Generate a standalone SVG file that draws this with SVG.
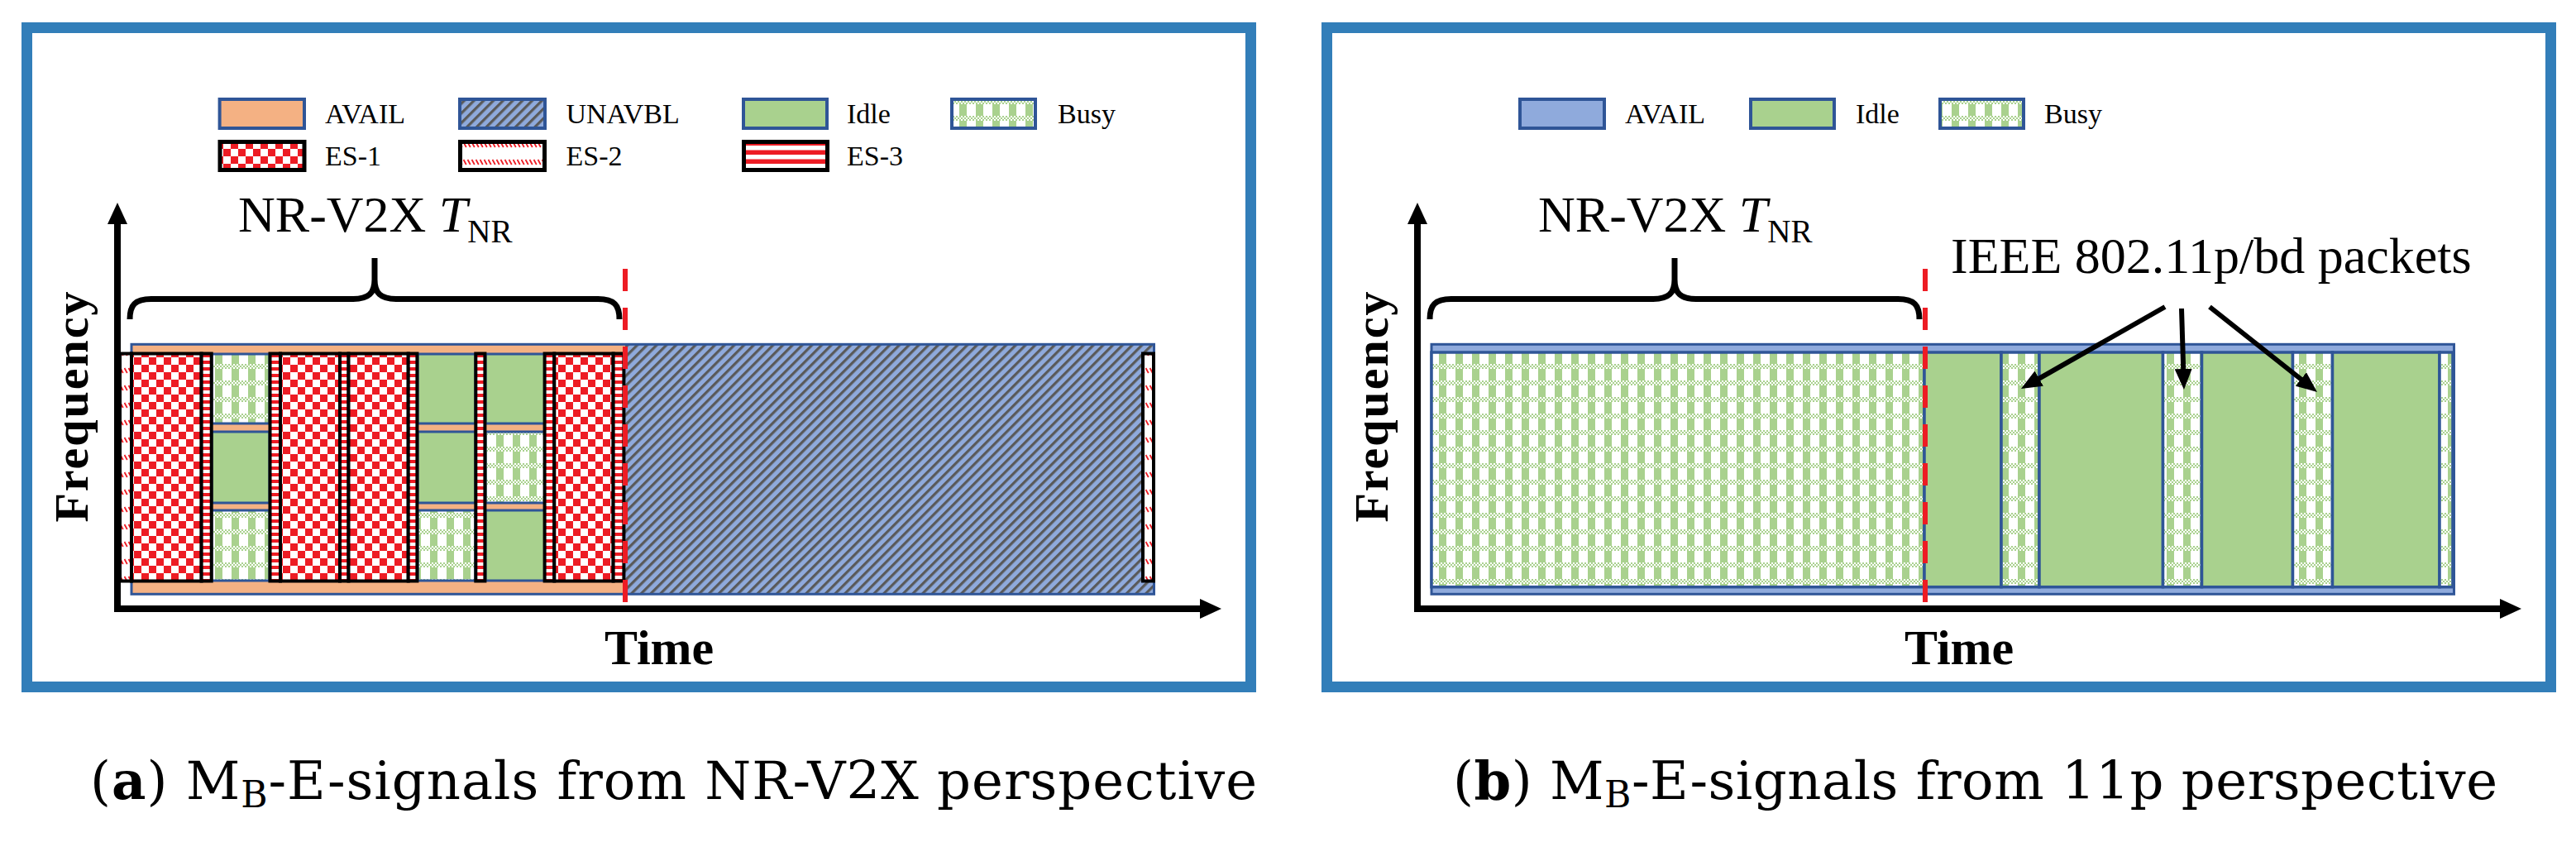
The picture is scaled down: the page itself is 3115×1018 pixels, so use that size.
<svg xmlns="http://www.w3.org/2000/svg" width="3115" height="1018" viewBox="0 0 3115 1018">
<defs>
<style>
.frame{fill:none;stroke:#327EB9;stroke-width:13}
.lg{font-family:"Liberation Serif","Times New Roman",serif;font-size:34px;fill:#000}
.bb{stroke:#2F5597;stroke-width:4}
.kb{stroke:#000;stroke-width:5}
.cell{stroke:#2F5597;stroke-width:3}
.cellb{stroke:#2F5597;stroke-width:3.5}
.es{stroke:#000;stroke-width:4}
.axis{stroke:#000;stroke-width:8;fill:none}
.call{stroke:#000;stroke-width:6;fill:none}
.brace{stroke:#000;stroke-width:7;fill:none}
.dash{stroke:#ED1C24;stroke-width:6;stroke-dasharray:27 20;fill:none}
.big{font-family:"Liberation Serif","Times New Roman",serif;font-size:62px;fill:#000}
.axl{font-family:"Liberation Serif","Times New Roman",serif;font-weight:bold;font-size:60px;fill:#000}
.freq{font-family:"Liberation Serif","Times New Roman",serif;font-weight:bold;font-size:58px;letter-spacing:2px;fill:#000}
.cap{font-family:"DejaVu Serif","Liberation Serif",serif;font-size:64px;fill:#000}
.orange{fill:#F4B183}
.lblue{fill:#8FAADC}
.idle{fill:#A9D18E}
.busy{fill:url(#pBusy)}
.es1{fill:url(#pES1)}
.es2{fill:url(#pES2)}
.es3{fill:url(#pES3)}
.es3s{fill:url(#pES3s)}
.unav{fill:url(#pUnav)}
</style>
<pattern id="pES1" width="18" height="18" patternUnits="userSpaceOnUse"><rect width="18" height="18" fill="#fff"/><rect width="9" height="9" fill="#ED1C24"/><rect x="9" y="9" width="9" height="9" fill="#ED1C24"/></pattern>
<pattern id="pFine" width="4" height="4" patternUnits="userSpaceOnUse"><rect width="4" height="4" fill="#fff"/><rect width="2" height="2" fill="#A9D18E"/><rect x="2" y="2" width="2" height="2" fill="#A9D18E"/></pattern>
<pattern id="pBusy" width="20" height="20" patternUnits="userSpaceOnUse"><rect width="20" height="20" fill="#fff"/><rect width="20" height="6" fill="url(#pFine)"/><rect x="0" y="6" width="9" height="14" fill="#A9D18E"/></pattern>
<pattern id="pES2" width="5" height="21" patternUnits="userSpaceOnUse"><rect width="5" height="21" fill="#fff"/><path d="M0.5,4 L3.8,10" stroke="#ED1C24" stroke-width="1.8"/></pattern>
<pattern id="pES3" width="11" height="11" patternUnits="userSpaceOnUse"><rect width="11" height="11" fill="#fff"/><rect y="5.5" width="11" height="5.5" fill="#ED1C24"/></pattern>
<pattern id="pES3s" width="8" height="8" patternUnits="userSpaceOnUse"><rect width="8" height="8" fill="#fff"/><rect y="4" width="8" height="4" fill="#ED1C24"/></pattern>
<pattern id="pUnav" width="8.3" height="8.3" patternUnits="userSpaceOnUse" patternTransform="rotate(45)"><rect width="8.3" height="8.3" fill="#8FAADC"/><rect width="3.2" height="8.3" fill="#595959"/></pattern>
<marker id="axh" markerUnits="userSpaceOnUse" markerWidth="26" markerHeight="24" refX="13" refY="12" orient="auto" viewBox="0 0 26 24"><path d="M0,0 L26,12 L0,24 z" fill="#000"/></marker>
<marker id="cah" markerUnits="userSpaceOnUse" markerWidth="25" markerHeight="21" refX="13" refY="10.5" orient="auto" viewBox="0 0 25 21"><path d="M0,0 L25,10.5 L0,21 z" fill="#000"/></marker>
</defs>
<rect width="3115" height="1018" fill="#fff"/>

<!-- ============ PANEL A ============ -->
<g id="panel-a">
<rect id="frame-a" class="frame" x="32.5" y="33.5" width="1480" height="797"/>

<g id="legend-a">
<g id="lg-a-avail"><rect class="bb orange" x="265.6" y="120" width="102.4" height="35"/><text class="lg" x="393" y="148.5">AVAIL</text></g>
<g id="lg-a-unavbl"><rect class="bb unav" x="556" y="120" width="103" height="35"/><text class="lg" x="684.5" y="148.5">UNAVBL</text></g>
<g id="lg-a-idle"><rect class="bb idle" x="899" y="120" width="101" height="35"/><text class="lg" x="1024" y="148.5">Idle</text></g>
<g id="lg-a-busy"><rect class="bb busy" x="1151" y="120" width="101" height="35"/><text class="lg" x="1279" y="148.5">Busy</text></g>
<g id="lg-a-es1"><rect class="kb es1" x="266" y="171.5" width="102" height="34"/><text class="lg" x="393" y="199.5">ES-1</text></g>
<g id="lg-a-es2"><rect class="kb es2" x="556.5" y="171.5" width="102" height="34"/><text class="lg" x="684.5" y="199.5">ES-2</text></g>
<g id="lg-a-es3"><rect class="kb es3" x="899.5" y="171.5" width="101" height="34"/><text class="lg" x="1024" y="199.5">ES-3</text></g>
</g>

<g id="title-a"><text class="big" x="288" y="280">NR-V2X <tspan font-style="italic">T</tspan><tspan font-size="39" dy="13">NR</tspan></text></g>
<g id="brace-a"><path class="brace" d="M157,386 C157,369 163,361.5 183,361.5 L427,361.5 C446,361.5 453,354 453,338 L453,312 M453,338 C453,354 460,361.5 479,361.5 L723,361.5 C743,361.5 749,369 749,386"/></g>

<g id="chart-a">
<rect id="a-avail-bg" class="orange" x="159" y="416.3" width="597" height="302"/>
<rect id="a-unavbl-bg" class="unav" x="756" y="416.3" width="639.5" height="302"/>
<rect id="a-outline" x="159" y="416.3" width="1236.5" height="302" fill="none" stroke="#2F5597" stroke-width="3"/>
<g id="a-col1">
<rect class="cell busy" x="256" y="428" width="70" height="84"/>
<rect class="cell idle" x="256" y="522" width="70" height="86"/>
<rect class="cell busy" x="256" y="617" width="70" height="85"/>
</g>
<g id="a-col2">
<rect class="cell idle" x="505" y="428" width="70" height="84"/>
<rect class="cell idle" x="505" y="522" width="70" height="86"/>
<rect class="cell busy" x="505" y="617" width="70" height="85"/>
</g>
<g id="a-col3">
<rect class="cell idle" x="587" y="428" width="71.5" height="84"/>
<rect class="cell busy" x="587" y="522" width="71.5" height="86"/>
<rect class="cell idle" x="587" y="617" width="71.5" height="85"/>
</g>
<g id="a-es-blocks">
<rect class="es es2" x="145" y="427.5" width="14" height="275"/>
<rect class="es es1" x="159" y="427.5" width="84.6" height="275"/>
<rect class="es es3s" x="243.6" y="427.5" width="12.1" height="275"/>
<rect class="es es3s" x="326.5" y="427.5" width="12.5" height="275"/>
<rect class="es es1" x="339" y="427.5" width="72" height="275"/>
<rect class="es es3s" x="411" y="427.5" width="10.5" height="275"/>
<rect class="es es1" x="421.5" y="427.5" width="72.2" height="275"/>
<rect class="es es3s" x="493.7" y="427.5" width="10.7" height="275"/>
<rect class="es es3s" x="575.3" y="427.5" width="11.1" height="275"/>
<rect class="es es3s" x="658.6" y="427.5" width="11.7" height="275"/>
<rect class="es es1" x="670.3" y="427.5" width="71.3" height="275"/>
<rect class="es es3s" x="741.6" y="427.5" width="12.8" height="275"/>
<rect class="es es2" x="1382" y="427.5" width="13" height="275"/>
</g>
<line id="a-tnr-mark" class="dash" x1="756" y1="325" x2="756" y2="732"/>
</g>

<g id="axes-a">
<line class="axis" x1="142" y1="740" x2="142" y2="258" marker-end="url(#axh)"/>
<line class="axis" x1="138" y1="736" x2="1464" y2="736" marker-end="url(#axh)"/>
<text class="freq" transform="translate(106,491) rotate(-90)" text-anchor="middle">Frequency</text>
<text class="axl" x="731" y="803">Time</text>
</g>
</g>

<!-- ============ PANEL B ============ -->
<g id="panel-b">
<rect id="frame-b" class="frame" x="1604.5" y="33.5" width="1480" height="797"/>

<g id="legend-b">
<g id="lg-b-avail"><rect class="bb lblue" x="1838" y="120" width="102" height="35"/><text class="lg" x="1965" y="148.5">AVAIL</text></g>
<g id="lg-b-idle"><rect class="bb idle" x="2117" y="120" width="101" height="35"/><text class="lg" x="2244" y="148.5">Idle</text></g>
<g id="lg-b-busy"><rect class="bb busy" x="2346" y="120" width="101" height="35"/><text class="lg" x="2472" y="148.5">Busy</text></g>
</g>

<g id="title-b"><text class="big" x="1860" y="280">NR-V2X <tspan font-style="italic">T</tspan><tspan font-size="39" dy="13">NR</tspan></text></g>
<g id="brace-b"><path class="brace" d="M1729,386 C1729,369 1735,361.5 1755,361.5 L1999,361.5 C2018,361.5 2025,354 2025,338 L2025,312 M2025,338 C2025,354 2032,361.5 2051,361.5 L2295,361.5 C2315,361.5 2321,369 2321,386"/></g>

<g id="label-b"><text class="big" x="2359" y="330" font-size="61">IEEE 802.11p/bd packets</text></g>

<g id="chart-b">
<rect id="b-avail-bg" class="lblue" x="1731" y="416.3" width="1236.5" height="302" stroke="#2F5597" stroke-width="3"/>
<rect class="cellb busy" x="1731" y="426" width="596" height="283.7"/>
<rect class="cellb idle" x="2327" y="426" width="93" height="283.7"/>
<rect class="cellb busy" x="2420" y="426" width="46" height="283.7"/>
<rect class="cellb idle" x="2466" y="426" width="149.5" height="283.7"/>
<rect class="cellb busy" x="2615.5" y="426" width="47" height="283.7"/>
<rect class="cellb idle" x="2662.5" y="426" width="110" height="283.7"/>
<rect class="cellb busy" x="2772.5" y="426" width="48" height="283.7"/>
<rect class="cellb idle" x="2820.5" y="426" width="129.5" height="283.7"/>
<rect class="cellb busy" x="2950" y="426" width="16" height="283.7"/>
<line id="b-tnr-mark" class="dash" x1="2328" y1="325" x2="2328" y2="732"/>
</g>

<g id="axes-b">
<line class="axis" x1="1714" y1="740" x2="1714" y2="258" marker-end="url(#axh)"/>
<line class="axis" x1="1710" y1="736" x2="3036" y2="736" marker-end="url(#axh)"/>
<text class="freq" transform="translate(1678,491) rotate(-90)" text-anchor="middle">Frequency</text>
<text class="axl" x="2303" y="803">Time</text>
</g>
</g>

<g id="connectors">
<line class="call" x1="2618" y1="371" x2="2454.4" y2="464.1" marker-end="url(#cah)"/>
<line class="call" x1="2638" y1="373" x2="2640.6" y2="459" marker-end="url(#cah)"/>
<line class="call" x1="2672" y1="371" x2="2792.6" y2="466.5" marker-end="url(#cah)"/>
</g>

<g id="captions">
<text class="cap" x="109" y="966" textLength="1411" lengthAdjust="spacing">(<tspan font-weight="bold">a</tspan>) M<tspan font-size="44" dy="10">B</tspan><tspan dy="-10">-E-signals from NR-V2X perspective</tspan></text>
<text class="cap" x="1757" y="966" textLength="1263" lengthAdjust="spacing">(<tspan font-weight="bold">b</tspan>) M<tspan font-size="44" dy="10">B</tspan><tspan dy="-10">-E-signals from 11p perspective</tspan></text>
</g>
</svg>
